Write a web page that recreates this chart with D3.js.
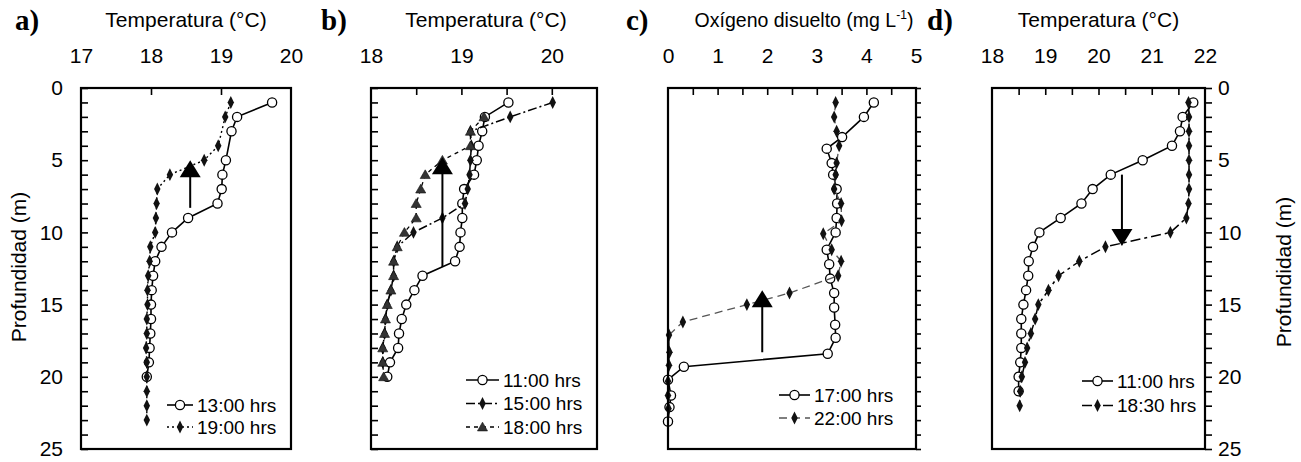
<!DOCTYPE html>
<html>
<head>
<meta charset="utf-8">
<script src="https://cdn.jsdelivr.net/npm/d3@7"></script>
<style>
  body { margin: 0; background: #fff; }
  svg { font-family: "Liberation Sans", Arial, sans-serif; }
</style>
</head>
<body>
<svg id="chart" width="1301" height="462"></svg>
<script>
// ---- data ----
// a) temperatura
const depthA13 = [1,2,3,5,6,7,8,9,10,11,12,13,14,15,16,17,18,19,20];
const tempA13  = [19.73,19.23,19.15,19.07,19.02,19.01,18.95,18.53,18.30,18.15,18.06,18.03,18.01,18.00,18.00,17.99,17.98,17.97,17.94];
const depthA19 = [1,2,4,5,6,7,8,9,10,11,12,13,14,15,16,17,18,19,20,21,22,23];
const tempA19  = [19.14,19.06,18.96,18.76,18.27,18.09,18.08,18.07,18.06,17.99,17.98,17.96,17.95,17.95,17.94,17.94,17.93,17.94,17.94,17.94,17.94,17.94];

// b) temperatura
const depthB11 = [1,2,3,4,5,6,7,8,9,10,11,12,13,14,15,16,17,18,19,20];
const tempB11  = [19.52,19.26,19.23,19.19,19.17,19.14,19.03,19.01,19.01,18.99,18.98,18.93,18.57,18.48,18.39,18.34,18.31,18.30,18.21,18.18];
const depthB15 = [1,2,3,4,5,6,7,8,9,10,11,12,13,14,15,16,17,18,19];
const tempB15  = [20.01,19.54,19.10,19.11,19.10,19.09,19.07,19.04,18.79,18.47,18.29,18.25,18.25,18.22,18.18,18.16,18.15,18.13,18.13];
const depthB18 = [2,3,4,5,6,7,8,9,10,11,12,13,14,15,16,17,18,19,20];
const tempB18  = [19.25,19.10,19.10,18.79,18.60,18.55,18.50,18.50,18.37,18.29,18.25,18.25,18.22,18.18,18.16,18.15,18.13,18.13,18.14];

// c) oxigeno disuelto
const depthC17 = [1,2,3.4,4.2,5.2,6,7,8,9,10,11.2,12.2,13.2,14.2,15.2,16.4,17.3,18.4,19.3,20.2,21.3,22.1,23.1];
const oxC17    = [4.15,3.95,3.51,3.20,3.30,3.33,3.40,3.41,3.40,3.38,3.20,3.25,3.27,3.35,3.35,3.37,3.38,3.22,0.32,0.00,0.06,0.03,0.00];
const depthC22 = [1,2,3,4,5.2,6,7,8,9.2,10.1,11.2,12,13,14.2,15,16.2,17.1,18.3,19.2,20.3,21.3,22.2];
const oxC22    = [3.38,3.35,3.40,3.45,3.40,3.38,3.35,3.49,3.50,3.13,3.30,3.49,3.43,2.45,1.59,0.30,0.02,0.03,0.02,0.00,0.00,0.01];

// d) temperatura
const depthD11 = [1,2,3,4,5,6,7,8,9,10,11,12,13,14,15,16,17,18,19,20,21];
const tempD11  = [21.78,21.58,21.53,21.38,20.83,20.23,19.89,19.68,19.29,18.89,18.77,18.69,18.68,18.64,18.59,18.55,18.55,18.55,18.53,18.50,18.50];
const depthD18 = [1,2,3,4,5,6,7,8,9,10,11,12,13,14,15,16,17,18,19,20,21,22];
const tempD18  = [21.69,21.70,21.70,21.70,21.70,21.70,21.70,21.69,21.65,21.35,20.13,19.64,19.25,19.06,18.87,18.81,18.73,18.66,18.62,18.56,18.53,18.52];

// arrows: [x value, from depth, to depth]
const arrowA = [18.56, 8.3, 5.0];
const arrowB = [18.79, 12.4, 4.8];
const arrowC = [1.9, 18.3, 14.0];
const arrowD = [20.44, 6.0, 10.95];

// axis ticks
const depthTicks = d3.range(0, 26);
const depthLabels = [0, 5, 10, 15, 20, 25];

// ---- drawing ----
const svg = d3.select("#chart");
const y = d3.scaleLinear().domain([0, 25]).range([88, 449]);

function marker(g, type, cx, cy) {
  if (type === "circle") {
    g.append("circle").attr("cx", cx).attr("cy", cy).attr("r", 4.6)
      .attr("fill", "#fff").attr("stroke", "#000").attr("stroke-width", 1.3);
  } else if (type === "diamond") {
    g.append("path").attr("d", d3.symbol(d3.symbolDiamond, 40)())
      .attr("transform", `translate(${cx},${cy}) scale(0.95,1.1)`).attr("fill", "#111");
  } else {
    g.append("path").attr("d", d3.symbol(d3.symbolTriangle, 44)())
      .attr("transform", `translate(${cx},${cy + 1})`).attr("fill", "#333")
      .attr("stroke", "#111").attr("stroke-width", 0.6);
  }
}

function drawPanel(p) {
  const x = d3.scaleLinear().domain(p.domain).range(p.range);
  const g = svg.append("g");
  const x0 = p.range[0], x1 = p.range[1];

  // series
  p.series.forEach(s => {
    const pts = s.depth.map((d, i) => [s.vals[i], d]);
    g.append("path")
      .attr("d", d3.line().x(d => x(d[0])).y(d => y(d[1]))(pts))
      .attr("fill", "none")
      .attr("stroke", s.color || "#000")
      .attr("stroke-width", s.width || 1.6)
      .attr("stroke-dasharray", s.dash || null);
    pts.forEach(d => marker(g, s.type, x(d[0]), y(d[1])));
  });

  // arrow
  const ax = x(p.arrow[0]), ya = y(p.arrow[1]), yb = y(p.arrow[2]);
  const dir = yb < ya ? 1 : -1;
  g.append("line").attr("x1", ax).attr("x2", ax).attr("y1", ya).attr("y2", yb + dir * 12)
    .attr("stroke", "#000").attr("stroke-width", 2);
  g.append("path")
    .attr("d", `M${ax},${yb} L${ax - 10.5},${yb + dir * 17} L${ax + 10.5},${yb + dir * 17} Z`)
    .attr("fill", "#000");

  // top ticks (inside) and labels
  const top = g.append("g").attr("transform", `translate(0,${y(0)})`)
    .call(d3.axisTop(x).tickValues(p.xTicks).tickSize(-7).tickFormat(""));
  top.select(".domain").remove();
  top.selectAll("line").attr("stroke-width", 1.6);
  const topLab = g.append("g").attr("transform", `translate(0,${y(0)})`)
    .call(d3.axisTop(x).tickValues(p.xLabels).tickSize(0).tickPadding(25).tickFormat(d3.format("d")));
  topLab.select(".domain").remove();
  topLab.selectAll("text").attr("font-size", 21).attr("font-family", "Liberation Sans, Arial, sans-serif").attr("fill", "#000");

  // depth ticks
  if (p.yAxis === "left") {
    const ya2 = g.append("g").attr("transform", `translate(${x0},0)`)
      .call(d3.axisLeft(y).tickValues(depthTicks).tickSize(-7).tickPadding(18)
        .tickFormat(d => p.yLabels && depthLabels.includes(d) ? d : ""));
    ya2.select(".domain").remove();
    ya2.selectAll("line").attr("stroke-width", 1.6);
    ya2.selectAll("text").attr("font-size", 21).attr("font-family", "Liberation Sans, Arial, sans-serif").attr("fill", "#000");
  } else {
    const ya2 = g.append("g").attr("transform", `translate(${x1},0)`)
      .call(d3.axisRight(y).tickValues(depthTicks).tickSize(p.yLabels ? 7 : 5).tickPadding(6)
        .tickFormat(d => p.yLabels && depthLabels.includes(d) ? d : ""));
    ya2.select(".domain").remove();
    ya2.selectAll("line").attr("stroke-width", 1.6);
    ya2.selectAll("text").attr("font-size", 21).attr("font-family", "Liberation Sans, Arial, sans-serif").attr("fill", "#000");
  }

  // frame
  g.append("rect").attr("x", x0).attr("y", y(0)).attr("width", x1 - x0).attr("height", y(25) - y(0))
    .attr("fill", "none").attr("stroke", "#000").attr("stroke-width", 2.2);

  // panel letter and title
  g.append("text").attr("x", p.letterX).attr("y", 30).text(p.letter)
    .attr("font-family", "Liberation Serif, Times New Roman, serif").attr("font-weight", "bold").attr("font-size", 29);
  const t = g.append("text").attr("x", (x0 + x1) / 2 + (p.titleShift || 0)).attr("y", 27)
    .attr("text-anchor", "middle").attr("font-size", p.titleSize || 21);
  t.append("tspan").text(p.title);
  if (p.titleSup) {
    t.append("tspan").text(p.titleSup).attr("font-size", 12).attr("dy", -8);
    t.append("tspan").text(")").attr("dy", 8);
  }

  // legend
  p.series.forEach((s, i) => {
    const ly = p.legend[1] + i * p.legend[3];
    const lx = p.legend[0];
    g.append("line").attr("x1", lx).attr("x2", lx + p.legend[2]).attr("y1", ly).attr("y2", ly)
      .attr("stroke", s.color || "#000").attr("stroke-width", s.width || 1.6)
      .attr("stroke-dasharray", s.dash || null);
    marker(g, s.type, lx + p.legend[2] / 2, ly);
    g.append("text").attr("x", lx + p.legend[2] + 4).attr("y", ly).attr("dy", "0.36em")
      .attr("font-size", 19).text(s.name);
  });

  // y label
  if (p.yTitle) {
    g.append("text").attr("transform", `translate(${p.yTitle[0]},${p.yTitle[1]}) rotate(-90)`)
      .attr("text-anchor", "middle").attr("font-size", 21).text("Profundidad (m)");
  }
}

drawPanel({
  letter: "a)", letterX: 15, title: "Temperatura (°C)",
  domain: [17, 20], range: [81, 291],
  xTicks: [18, 19], xLabels: [17, 18, 19, 20],
  yAxis: "left", yLabels: true, yTitle: [26, 267],
  arrow: arrowA,
  legend: [167, 405, 26, 22],
  series: [
    { name: "13:00 hrs", depth: depthA13, vals: tempA13, type: "circle" },
    { name: "19:00 hrs", depth: depthA19, vals: tempA19, type: "diamond", dash: "2,3", width: 1.4 }
  ]
});

drawPanel({
  letter: "b)", letterX: 321, title: "Temperatura (°C)", titleShift: 2,
  domain: [18, 20.5], range: [371, 597],
  xTicks: [18.5, 19, 19.5, 20], xLabels: [18, 19, 20],
  yAxis: "left", yLabels: false,
  arrow: arrowB,
  legend: [466, 380, 33, 23.5],
  series: [
    { name: "11:00 hrs", depth: depthB11, vals: tempB11, type: "circle" },
    { name: "15:00 hrs", depth: depthB15, vals: tempB15, type: "diamond", dash: "9,3,2,3", width: 1.5 },
    { name: "18:00 hrs", depth: depthB18, vals: tempB18, type: "triangle", dash: "4,4", width: 1.3 }
  ]
});

drawPanel({
  letter: "c)", letterX: 626, title: "Oxígeno disuelto (mg L", titleSup: "-1",
  titleShift: 12, titleSize: 19.5,
  domain: [0, 5], range: [668, 916],
  xTicks: d3.range(0.5, 5, 0.5), xLabels: [0, 1, 2, 3, 4, 5],
  yAxis: "right", yLabels: false,
  arrow: arrowC,
  legend: [779, 395, 31, 23],
  series: [
    { name: "17:00 hrs", depth: depthC17, vals: oxC17, type: "circle" },
    { name: "22:00 hrs", depth: depthC22, vals: oxC22, type: "diamond", dash: "8,5", color: "#555", width: 1.3 }
  ]
});

drawPanel({
  letter: "d)", letterX: 927, title: "Temperatura (°C)",
  domain: [18, 22], range: [992, 1205],
  xTicks: d3.range(18.5, 22, 0.5), xLabels: [18, 19, 20, 21, 22],
  yAxis: "right", yLabels: true, yTitle: [1291, 272],
  arrow: arrowD,
  legend: [1082, 381, 31, 24.5],
  series: [
    { name: "11:00 hrs", depth: depthD11, vals: tempD11, type: "circle" },
    { name: "18:30 hrs", depth: depthD18, vals: tempD18, type: "diamond", dash: "10,4,3,4", width: 1.5 }
  ]
});
</script>
</body>
</html>
